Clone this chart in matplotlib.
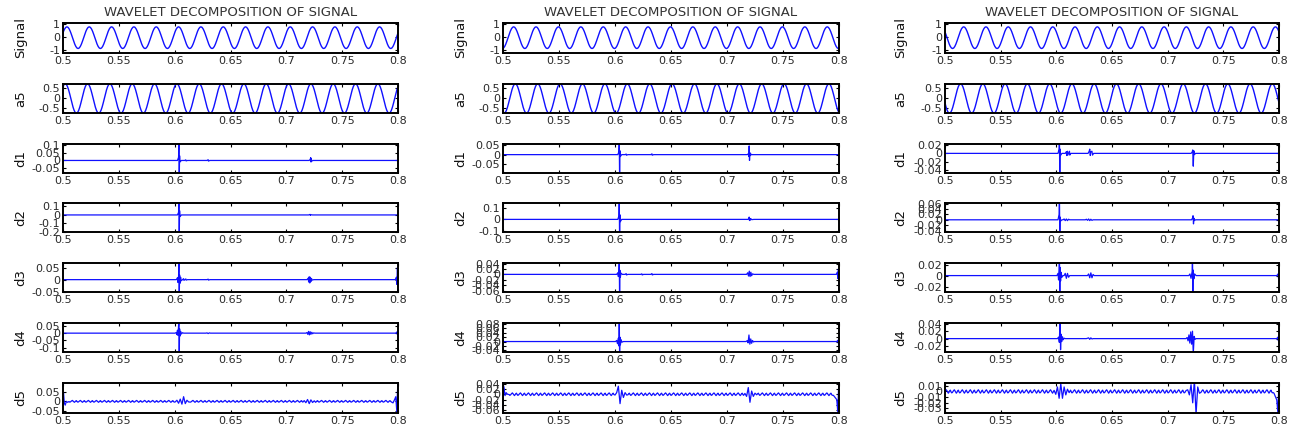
import numpy as np
import matplotlib
matplotlib.use("Agg")
import matplotlib.pyplot as plt

# ---------------- text ----------------
title_text = "WAVELET DECOMPOSITION OF SIGNAL"
row_labels = ["Signal", "a5", "d1", "d2", "d3", "d4", "d5"]
x_ticks = [0.5, 0.55, 0.6, 0.65, 0.7, 0.75, 0.8]
x_tick_labels = ["0.5", "0.55", "0.6", "0.65", "0.7", "0.75", "0.8"]

# ---------------- periodic parts ----------------
# one 50 Hz period, starting at the crest, normalised
wave_cycle = [1.000, 0.951, 0.809, 0.588, 0.309, 0.000, -0.309, -0.588, -0.809, -0.951,
              -1.000, -0.951, -0.809, -0.588, -0.309, 0.000, 0.309, 0.588, 0.809, 0.951]
wave_period = 0.02
signal_amp = [0.85, 0.85, 0.85]
signal_offset = [-0.05, -0.05, -0.05]
signal_peak_t = [0.5035, 0.5095, 0.4968]
a5_amp = [0.76, 0.76, 0.76]
a5_offset = [-0.035, -0.035, -0.035]
a5_peak_t = [0.5020, 0.5110, 0.4940]

# small ripple on the d5 level
d5_ripple = [0.0, 0.6, 1.0, 0.3, -0.5, -1.0, -0.4, 0.4, 0.8, -0.2, -0.8, -0.6]
d5_ripple_step = 0.0006
d5_ripple_amp = [0.005, 0.005, 0.003]

# ---------------- axis ranges / ticks ----------------
c1_ylim = [(-1.25, 1.1), (-0.78, 0.71), (-0.08, 0.105), (-0.2, 0.14), (-0.052, 0.07), (-0.13, 0.07), (-0.062, 0.098)]
c1_yticks = [[-1, 0, 1], [-0.5, 0, 0.5], [-0.05, 0, 0.05, 0.1], [-0.2, -0.1, 0, 0.1], [-0.05, 0, 0.05], [-0.1, -0.05, 0, 0.05], [-0.05, 0, 0.05]]
c2_ylim = [(-1.25, 1.1), (-0.78, 0.71), (-0.095, 0.055), (-0.11, 0.143), (-0.065, 0.042), (-0.048, 0.085), (-0.07, 0.042)]
c2_yticks = [[-1, 0, 1], [-0.5, 0, 0.5], [-0.05, 0, 0.05], [-0.1, 0, 0.1], [-0.06, -0.04, -0.02, 0, 0.02, 0.04], [-0.04, -0.02, 0, 0.02, 0.04, 0.06, 0.08], [-0.06, -0.04, -0.02, 0, 0.02, 0.04]]
c3_ylim = [(-1.25, 1.1), (-0.78, 0.71), (-0.046, 0.022), (-0.045, 0.062), (-0.03, 0.023), (-0.036, 0.042), (-0.038, 0.015)]
c3_yticks = [[-1, 0, 1], [-0.5, 0, 0.5], [-0.04, -0.02, 0, 0.02], [-0.04, -0.02, 0, 0.02, 0.04, 0.06], [-0.02, 0, 0.02], [-0.02, 0, 0.02, 0.04], [-0.03, -0.02, -0.01, 0, 0.01]]

# ---------------- detail events (time, value) ----------------
c1_d1_t = [0.6035, 0.6038, 0.6041, 0.6044, 0.6047, 0.6100, 0.6102, 0.6300, 0.6302, 0.7215, 0.7218, 0.7221, 0.7224, 0.7227]
c1_d1_v = [0.02, 0.15, -0.12, 0.03, -0.01, 0.004, -0.003, 0.005, -0.004, 0.008, 0.018, -0.01, 0.012, -0.004]
c1_d2_t = [0.6035, 0.6038, 0.6041, 0.6044, 0.6047, 0.7212, 0.7215, 0.7218]
c1_d2_v = [0.03, 0.2, -0.25, 0.05, -0.02, 0.006, -0.005, 0.003]
c1_d3_t = [0.6025, 0.6030, 0.6035, 0.6038, 0.6041, 0.6044, 0.6048, 0.6053, 0.6058, 0.6080, 0.6083, 0.6100, 0.6103,
           0.6300, 0.6303, 0.7195, 0.7200, 0.7205, 0.7210, 0.7215, 0.7220, 0.7225, 0.7232, 0.7985, 0.7990, 0.7995, 0.8]
c1_d3_v = [0.008, -0.012, 0.015, 0.09, -0.08, 0.02, -0.015, 0.01, -0.005, 0.004, -0.003, 0.003, -0.002,
           0.002, -0.002, 0.006, -0.01, 0.012, -0.014, 0.01, -0.008, 0.005, -0.002, 0.01, -0.02, 0.05, -0.05]
c1_d4_t = [0.6015, 0.6020, 0.6025, 0.6030, 0.6035, 0.6038, 0.6041, 0.6044, 0.6048, 0.6053, 0.6060, 0.6070,
           0.6290, 0.6300, 0.6310, 0.7185, 0.7192, 0.7199, 0.7206, 0.7213, 0.7220, 0.7228, 0.7236, 0.7245,
           0.7990, 0.7995, 0.8]
c1_d4_v = [0.005, -0.01, 0.02, -0.015, 0.05, 0.09, -0.15, 0.03, -0.02, 0.012, -0.006, 0.003,
           0.002, -0.003, 0.002, 0.004, -0.008, 0.012, -0.012, 0.01, -0.008, 0.006, -0.004, 0.002,
           0.008, -0.01, 0.01]
c1_d5_t = [0.5, 0.5005, 0.5012, 0.502, 0.503, 0.504,
           0.6005, 0.602, 0.6035, 0.605, 0.6065, 0.608, 0.6095, 0.611, 0.6125,
           0.716, 0.7175, 0.719, 0.7205, 0.722, 0.7235, 0.725,
           0.794, 0.7955, 0.797, 0.798, 0.799, 0.7995, 0.8]
c1_d5_v = [0.03, 0.045, -0.01, -0.02, 0.0, -0.005,
           -0.003, 0.006, -0.01, 0.012, -0.015, 0.025, -0.012, 0.006, -0.003,
           0.004, -0.007, 0.01, -0.012, 0.008, -0.006, 0.003,
           -0.003, -0.008, 0.01, 0.025, -0.06, 0.05, 0.1]

c2_d1_t = [0.6035, 0.6038, 0.6041, 0.6044, 0.6047, 0.6100, 0.6102, 0.6330, 0.6332,
           0.7190, 0.7195, 0.7198, 0.7201, 0.7204, 0.7210, 0.7215]
c2_d1_v = [0.015, 0.08, -0.12, 0.02, -0.01, 0.003, -0.003, 0.004, -0.003,
           0.004, -0.01, 0.045, -0.03, 0.01, -0.005, 0.002]
c2_d2_t = [0.6035, 0.6038, 0.6041, 0.6044, 0.6047, 0.7195, 0.7198, 0.7201, 0.7205, 0.7210, 0.7216, 0.7222]
c2_d2_v = [0.03, 0.2, -0.2, 0.04, -0.02, 0.005, 0.02, -0.01, 0.008, -0.005, 0.004, -0.002]
c2_d3_t = [0.6025, 0.6030, 0.6035, 0.6038, 0.6041, 0.6044, 0.6048, 0.6053, 0.6100, 0.6102, 0.6240, 0.6243,
           0.6330, 0.6333, 0.7185, 0.7192, 0.7199, 0.7206, 0.7213, 0.7220, 0.7228, 0.7985, 0.7990, 0.7995, 0.8]
c2_d3_v = [0.006, -0.008, 0.012, 0.06, -0.09, 0.015, -0.01, 0.005, 0.003, -0.002, 0.002, -0.002,
           0.003, -0.002, 0.006, -0.006, 0.012, -0.008, 0.008, -0.005, 0.002, 0.008, -0.015, 0.02, -0.06]
c2_d4_t = [0.6015, 0.6022, 0.6029, 0.6035, 0.6038, 0.6041, 0.6044, 0.6048, 0.6055, 0.6062,
           0.7180, 0.7188, 0.7196, 0.7204, 0.7212, 0.7220, 0.7228, 0.7236, 0.7990, 0.7995, 0.8]
c2_d4_v = [0.005, -0.01, 0.015, -0.02, 0.12, -0.06, 0.02, -0.015, 0.008, -0.003,
           0.004, -0.006, 0.03, -0.012, 0.012, -0.008, 0.005, -0.002, 0.006, -0.008, 0.005]
c2_d5_t = [0.5, 0.5005, 0.501, 0.5018, 0.5028, 0.504,
           0.6, 0.6015, 0.603, 0.6045, 0.606, 0.6075, 0.609, 0.6105,
           0.716, 0.7175, 0.719, 0.7205, 0.722, 0.7235, 0.725, 0.7265,
           0.795, 0.7965, 0.798, 0.799, 0.7995, 0.8]
c2_d5_v = [-0.07, 0.03, 0.02, -0.005, 0.006, 0.0,
           -0.003, 0.006, 0.03, -0.035, 0.015, -0.012, 0.006, -0.003,
           0.003, -0.008, 0.025, -0.03, 0.012, -0.008, 0.004, -0.002,
           -0.004, -0.012, -0.02, -0.07, 0.01, 0.045]

c3_d1_t = [0.6025, 0.6028, 0.6031, 0.6034, 0.6037, 0.6090, 0.6093, 0.6100, 0.6103, 0.6118, 0.6121,
           0.6295, 0.6300, 0.6305, 0.6310, 0.6320, 0.6325, 0.7220, 0.7225, 0.7230, 0.7235, 0.7240]
c3_d1_v = [0.01, 0.04, -0.07, 0.01, -0.005, 0.004, -0.005, 0.005, -0.004, 0.005, -0.004,
           0.005, 0.01, -0.005, 0.004, 0.005, -0.004, 0.003, 0.008, -0.03, 0.006, -0.003]
c3_d2_t = [0.6025, 0.6028, 0.6031, 0.6034, 0.6037, 0.6070, 0.6080, 0.6090, 0.6100, 0.6110,
           0.6270, 0.6280, 0.6290, 0.6300, 0.6310, 0.6320, 0.7225, 0.7228, 0.7232, 0.7236, 0.7240]
c3_d2_v = [0.02, 0.09, -0.07, 0.01, -0.005, 0.003, -0.003, 0.003, -0.003, 0.002,
           0.002, -0.002, 0.003, -0.003, 0.002, -0.002, 0.008, 0.015, -0.015, 0.006, -0.003]
c3_d3_t = [0.6015, 0.6020, 0.6025, 0.6028, 0.6031, 0.6034, 0.6038, 0.6043, 0.6050, 0.6080, 0.6090, 0.6100, 0.6110,
           0.6290, 0.6300, 0.6310, 0.6320, 0.6330, 0.7200, 0.7210, 0.7220, 0.7223, 0.7226, 0.7229, 0.7235, 0.7242,
           0.7992, 0.7996, 0.8]
c3_d3_v = [0.004, -0.008, 0.012, 0.04, -0.05, 0.015, -0.01, 0.006, -0.003, 0.004, -0.005, 0.004, -0.003,
           0.003, -0.004, 0.005, -0.004, 0.002, 0.003, -0.005, 0.008, 0.04, -0.04, 0.01, -0.006, 0.003,
           0.003, -0.005, 0.004]
c3_d4_t = [0.6020, 0.6027, 0.6034, 0.6038, 0.6042, 0.6048, 0.6055, 0.6062, 0.6070,
           0.6280, 0.6290, 0.6300, 0.6310, 0.6320,
           0.7175, 0.7183, 0.7191, 0.7199, 0.7207, 0.7215, 0.7223, 0.7230, 0.7238, 0.7246,
           0.7990, 0.7995, 0.8]
c3_d4_v = [0.004, -0.01, 0.06, -0.03, 0.012, -0.008, 0.005, -0.003, 0.001,
           0.001, 0.002, -0.002, 0.002, -0.001,
           0.003, -0.006, 0.01, -0.012, 0.018, -0.015, 0.02, -0.04, 0.006, -0.002,
           0.004, -0.006, 0.004]
c3_d5_t = [0.598, 0.5995, 0.601, 0.6025, 0.604, 0.6055, 0.607, 0.6085, 0.61, 0.6115,
           0.718, 0.7195, 0.721, 0.7225, 0.724, 0.7255, 0.727, 0.7285,
           0.7955, 0.797, 0.798, 0.799, 0.8]
c3_d5_v = [0.002, -0.005, 0.008, -0.012, 0.014, -0.012, 0.008, -0.006, 0.004, -0.002,
           0.003, -0.006, 0.012, -0.02, 0.02, -0.04, 0.008, -0.003,
           -0.003, -0.01, -0.015, -0.038, 0.02]

detail_t = [[c1_d1_t, c1_d2_t, c1_d3_t, c1_d4_t, c1_d5_t],
            [c2_d1_t, c2_d2_t, c2_d3_t, c2_d4_t, c2_d5_t],
            [c3_d1_t, c3_d2_t, c3_d3_t, c3_d4_t, c3_d5_t]]
detail_v = [[c1_d1_v, c1_d2_v, c1_d3_v, c1_d4_v, c1_d5_v],
            [c2_d1_v, c2_d2_v, c2_d3_v, c2_d4_v, c2_d5_v],
            [c3_d1_v, c3_d2_v, c3_d3_v, c3_d4_v, c3_d5_v]]
col_ylims = [c1_ylim, c2_ylim, c3_ylim]
col_yticks = [c1_yticks, c2_yticks, c3_yticks]


def periodic(cycle, period, amp, offset, t_first, t0=0.5, t1=0.8):
    n = len(cycle)
    dt = period / n
    k0 = int(np.floor((t0 - t_first) / dt)) - 1
    k1 = int(np.ceil((t1 - t_first) / dt)) + 1
    idx = np.arange(k0, k1 + 1)
    t = t_first + idx * dt
    v = offset + amp * np.asarray(cycle)[idx % n]
    return t, v


def merge(bt, bv, et, ev):
    bt = np.asarray(bt, float)
    bv = np.asarray(bv, float)
    et = np.asarray(et, float)
    ev = np.asarray(ev, float)
    keep = np.min(np.abs(bt[:, None] - et[None, :]), axis=1) > 0.0009
    t = np.concatenate([bt[keep], et])
    v = np.concatenate([bv[keep], ev])
    o = np.argsort(t, kind="stable")
    return t[o], v[o]


def fmt(v):
    if abs(v) < 1e-12:
        return "0"
    return ("%.2f" % v).rstrip("0").rstrip(".")


# ---------------- figure ----------------
W, H = 1291, 432
fig = plt.figure(figsize=(W / 100, H / 100), dpi=100)
plt.rcParams["font.family"] = ["DejaVu Sans"]

cols_px = [(63, 398), (503, 839), (945, 1279)]
rows_px = [(23, 53), (84, 113), (144, 173), (203, 232), (263, 292), (323, 352), (383, 413)]
line_col = "#1010ff"
txt_col = "#2a2a2a"
flat_base_t = list(np.linspace(0.5, 0.8, 601))

for c, (xl, xr) in enumerate(cols_px):
    for r, (yt, yb) in enumerate(rows_px):
        ax = fig.add_axes([xl / W, 1 - yb / H, (xr - xl) / W, (yb - yt) / H])
        if r == 0:
            t, v = periodic(wave_cycle, wave_period, signal_amp[c], signal_offset[c], signal_peak_t[c])
            ax.plot(t, v, color=line_col, lw=1.0)
        elif r == 1:
            t, v = periodic(wave_cycle, wave_period, a5_amp[c], a5_offset[c], a5_peak_t[c])
            ax.plot(t, v, color=line_col, lw=1.0)
        else:
            if r == 6:
                bt, bv = periodic(d5_ripple, d5_ripple_step * len(d5_ripple), d5_ripple_amp[c], 0.0, 0.5)
            else:
                bt, bv = flat_base_t, [0.0] * len(flat_base_t)
            t, v = merge(bt, bv, detail_t[c][r - 2], detail_v[c][r - 2])
            ax.plot(t, v, color=line_col, lw=0.9)
        ax.set_xlim(0.5, 0.8)
        ax.set_ylim(*col_ylims[c][r])
        ax.set_xticks(x_ticks)
        ax.set_xticklabels(x_tick_labels)
        yt_vals = col_yticks[c][r]
        ax.set_yticks(yt_vals)
        ax.set_yticklabels([fmt(y) for y in yt_vals])
        ax.tick_params(direction="in", length=2.5, width=0.8, top=True, right=True,
                       labelsize=8, labelcolor=txt_col, pad=2)
        for s in ax.spines.values():
            s.set_linewidth(1.4)
            s.set_color("black")
        ax.set_ylabel(row_labels[r], fontsize=9.5, color="#111111", labelpad=0)
        ax.yaxis.set_label_coords(-(36.0 + (2 if c == 2 else 0)) / (xr - xl), 0.5)
    fig.text((xl + xr) / 2 / W, 1 - 12.2 / H, title_text, ha="center", va="center",
             fontsize=9.5, color="#333333")

fig.savefig("out.png", dpi=100)
